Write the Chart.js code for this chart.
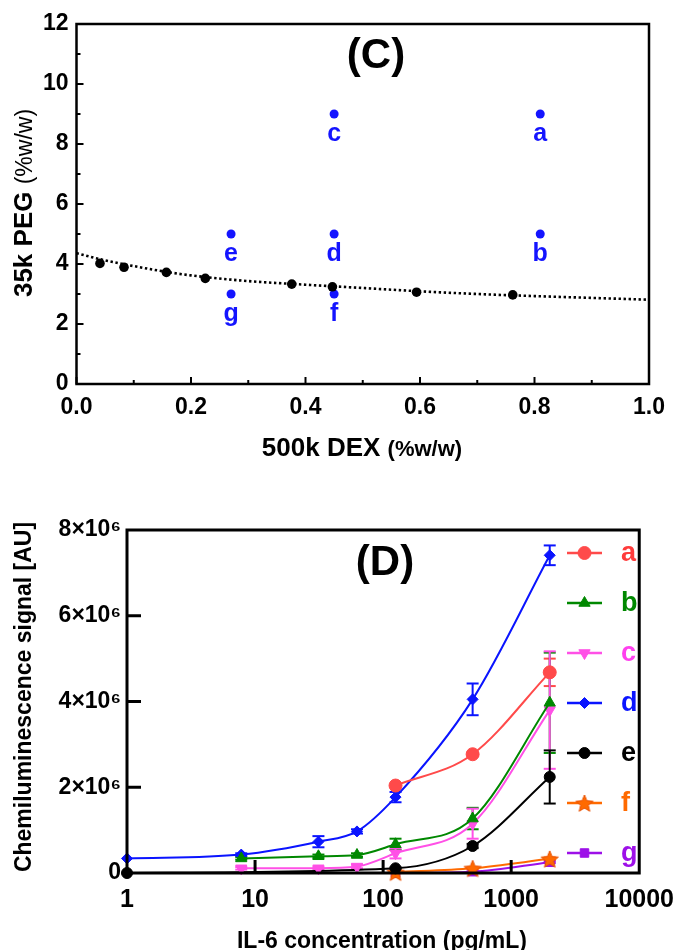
<!DOCTYPE html>
<html><head><meta charset="utf-8">
<script src="https://cdn.jsdelivr.net/npm/chart.js@4.4.1/dist/chart.umd.min.js"></script>
<style>
html,body{margin:0;padding:0;background:#fff;}
#wrap{position:relative;width:686px;height:950px;background:#fff;}
canvas{position:absolute;left:0;}
</style></head><body>
<div id="wrap">
<canvas id="chartC" width="686" height="475" style="top:0px"></canvas>
<canvas id="chartD" width="686" height="475" style="top:475px"></canvas>
</div>
<script>
// ================= Panel (C) data =================
const binodalDex = [0.041, 0.083, 0.157, 0.225, 0.376, 0.447, 0.594, 0.762];
const binodalPeg = [4.02, 3.89, 3.72, 3.52, 3.33, 3.24, 3.06, 2.97];
const fitDex = [0, 0.05, 0.1, 0.15, 0.2, 0.3, 0.4, 0.5, 0.6, 0.7, 0.8, 0.9, 1.0];
const fitPeg = [4.36, 4.12, 3.93, 3.76, 3.62, 3.43, 3.31, 3.2, 3.09, 3.0, 2.93, 2.87, 2.81];
const compLabels = ['a', 'b', 'c', 'd', 'e', 'f', 'g'];
const compDex = [0.81, 0.81, 0.45, 0.45, 0.27, 0.45, 0.27];
const compPeg = [9, 5, 9, 5, 5, 3, 3];
const cXTicks = [0, 0.2, 0.4, 0.6, 0.8, 1.0];
const cXTickLabels = ['0.0', '0.2', '0.4', '0.6', '0.8', '1.0'];
const cXMinorTicks = [0.1, 0.3, 0.5, 0.7, 0.9];
const cYTicks = [0, 2, 4, 6, 8, 10, 12];
const cYTickLabels = ['0', '2', '4', '6', '8', '10', '12'];
const cYMinorTicks = [1, 3, 5, 7, 9, 11];

// ================= Panel (D) data =================
const il6Conc = [1, 7.8, 31.25, 62.5, 125, 500, 2000];
const seriesNames = ['a', 'b', 'c', 'd', 'e', 'f', 'g'];
const signalA = [null, null, null, null, 2.04e6, 2.77e6, 4.68e6];
const errA    = [0, 0, 0, 0, 0, 0.04e6, 0.32e6];
const signalB = [null, 0.34e6, 0.39e6, 0.42e6, 0.67e6, 1.27e6, 3.97e6];
const errB    = [0, 0.03e6, 0.04e6, 0.04e6, 0.13e6, 0.25e6, 1.17e6];
const signalC = [null, 0.11e6, 0.11e6, 0.15e6, 0.46e6, 1.15e6, 3.80e6];
const errC    = [0, 0.03e6, 0.03e6, 0.04e6, 0.12e6, 0.35e6, 1.37e6];
const signalD = [0.34e6, 0.43e6, 0.73e6, 0.97e6, 1.77e6, 4.05e6, 7.41e6];
const errD    = [0, 0.03e6, 0.13e6, 0.05e6, 0.12e6, 0.37e6, 0.23e6];
const signalE = [0, null, null, null, 0.11e6, 0.63e6, 2.24e6];
const errE    = [0, 0, 0, 0, 0.02e6, 0.05e6, 0.62e6];
const signalF = [null, null, null, null, 0.02e6, 0.11e6, 0.33e6];
const errF    = [0, 0, 0, 0, 0, 0.02e6, 0.03e6];
const signalG = [null, null, null, null, 0.0, 0.03e6, 0.25e6];
const errG    = [0, 0, 0, 0, 0, 0.01e6, 0.02e6];
const dXTicks = [1, 10, 100, 1000, 10000];
const dXTickLabels = ['1', '10', '100', '1000', '10000'];
const dXInnerTicks = [10, 100, 1000];
const dYTicks = [0, 2e6, 4e6, 6e6, 8e6];
const dYTickLabels = ['0', '2×10⁶', '4×10⁶', '6×10⁶', '8×10⁶'];
const dYInnerTicks = [2e6, 4e6, 6e6];

// ================= styles =================
const FONT = "'Liberation Sans', Arial, Helvetica, sans-serif";
Chart.defaults.font.family = FONT;
Chart.defaults.color = '#000';
const BLUE_C = '#1414ff';

function makeStar(color, r) {
  const s = Math.ceil(r * 2 + 4);
  const c = document.createElement('canvas');
  c.width = s; c.height = s;
  const g = c.getContext('2d');
  g.translate(s / 2, s / 2 + 1);
  g.beginPath();
  for (let i = 0; i < 10; i++) {
    const rr = i % 2 === 0 ? r : r * 0.45;
    const ang = -Math.PI / 2 + i * Math.PI / 5;
    g.lineTo(rr * Math.cos(ang), rr * Math.sin(ang));
  }
  g.closePath();
  g.fillStyle = color; g.fill();
  g.strokeStyle = '#e85000'; g.lineWidth = 1; g.stroke();
  return c;
}
const starImg = makeStar('#ff6a00', 9);

const seriesStyle = [
  { color: '#ff4a4a', text: '#ff3b3b', style: 'circle', radius: 6.5, rot: 0 },
  { color: '#008800', text: '#008800', style: 'triangle', radius: 6.5, rot: 0 },
  { color: '#ff50e6', text: '#ff40ee', style: 'triangle', radius: 6.5, rot: 180 },
  { color: '#0a14ff', text: '#0a14ff', style: 'rectRot', radius: 5.5, rot: 0 },
  { color: '#000000', text: '#000000', style: 'circle', radius: 5.5, rot: 0 },
  { color: '#ff6a00', text: '#ff6a00', style: starImg, radius: 9, rot: 0 },
  { color: '#9d10e8', text: '#9d10e8', style: 'rect', radius: 6, rot: 0 }
];
const seriesValues = [signalA, signalB, signalC, signalD, signalE, signalF, signalG];
const seriesErrors = [errA, errB, errC, errD, errE, errF, errG];

function line(ctx, x1, y1, x2, y2) { ctx.beginPath(); ctx.moveTo(x1, y1); ctx.lineTo(x2, y2); ctx.stroke(); }

function drawParts(ctx, parts, cx, cy, rotate) {
  ctx.save();
  ctx.translate(cx, cy);
  if (rotate) ctx.rotate(-Math.PI / 2);
  let total = 0;
  parts.forEach(p => { ctx.font = p.font; p.w = ctx.measureText(p.text).width; total += p.w; });
  let x = -total / 2;
  ctx.textAlign = 'left'; ctx.textBaseline = 'alphabetic'; ctx.fillStyle = '#000';
  parts.forEach(p => { ctx.font = p.font; ctx.fillText(p.text, x, p.base); x += p.w; });
  ctx.restore();
}

// ================= Chart (C) =================
const panelC = {
  id: 'panelC',
  afterDatasetsDraw(chart) {
    const ctx = chart.ctx;
    const meta = chart.getDatasetMeta(1);
    ctx.save();
    ctx.fillStyle = BLUE_C; ctx.font = 'bold 25px ' + FONT;
    ctx.textAlign = 'center'; ctx.textBaseline = 'alphabetic';
    meta.data.forEach((pt, i) => ctx.fillText(compLabels[i], pt.x, pt.y + 27));
    ctx.restore();
  },
  afterDraw(chart) {
    const { ctx, chartArea: a, scales: { x, y } } = chart;
    ctx.save();
    ctx.strokeStyle = '#000'; ctx.lineWidth = 2.5;
    ctx.strokeRect(a.left, a.top, a.right - a.left, a.bottom - a.top);
    ctx.lineWidth = 2;
    cYTicks.forEach(v => { const p = y.getPixelForValue(v); line(ctx, a.left, p, a.left + 7, p); });
    cYMinorTicks.forEach(v => { const p = y.getPixelForValue(v); line(ctx, a.left, p, a.left + 4, p); });
    cXTicks.forEach(v => { const p = x.getPixelForValue(v); line(ctx, p, a.bottom, p, a.bottom - 7); });
    cXMinorTicks.forEach(v => { const p = x.getPixelForValue(v); line(ctx, p, a.bottom, p, a.bottom - 4); });
    ctx.restore();
    drawParts(ctx, [{ text: '(C)', font: 'bold 42px ' + FONT, base: 0 }], 376, 68, false);
    drawParts(ctx, [{ text: '500k DEX ', font: 'bold 26px ' + FONT, base: 0 },
                    { text: '(%w/w)', font: 'bold 22px ' + FONT, base: 0 }], 362, 456, false);
    drawParts(ctx, [{ text: '35k PEG ', font: 'bold 26px ' + FONT, base: 9 },
                    { text: '(%w/w)', font: '23px ' + FONT, base: 9 }], 23, 203, true);
  }
};

new Chart(document.getElementById('chartC'), {
  type: 'scatter',
  data: {
    datasets: [
      { label: 'binodal', data: binodalDex.map((v, i) => ({ x: v, y: binodalPeg[i] })),
        backgroundColor: '#000', borderColor: '#000', pointRadius: 4.8, pointBorderWidth: 0 },
      { label: 'compositions', data: compDex.map((v, i) => ({ x: v, y: compPeg[i] })),
        backgroundColor: BLUE_C, borderColor: BLUE_C, pointRadius: 4.5, pointBorderWidth: 0 },
      { label: 'fit', data: fitDex.map((v, i) => ({ x: v, y: fitPeg[i] })), showLine: true,
        borderColor: '#000', borderWidth: 2.6, borderDash: [2.4, 2.6], pointRadius: 0,
        cubicInterpolationMode: 'monotone', fill: false }
    ]
  },
  options: {
    responsive: false, animation: false, events: [],
    layout: { padding: { top: 24, right: 37, left: 0, bottom: 0 } },
    plugins: { legend: { display: false }, tooltip: { enabled: false } },
    scales: {
      x: {
        type: 'linear', min: 0, max: 1,
        afterBuildTicks: s => { s.ticks = cXTicks.map(v => ({ value: v })); },
        afterFit: s => { s.height = 91; },
        grid: { display: false, drawTicks: false }, border: { display: false },
        ticks: { autoSkip: false, maxRotation: 0, padding: 10, color: '#000',
                 font: { size: 23, weight: 'bold' }, callback: (v, i) => cXTickLabels[i] }
      },
      y: {
        type: 'linear', min: 0, max: 12,
        afterBuildTicks: s => { s.ticks = cYTicks.map(v => ({ value: v })); },
        afterFit: s => { s.width = 76.5; },
        grid: { display: false, drawTicks: false }, border: { display: false },
        ticks: { autoSkip: false, padding: 8, color: '#000',
                 font: { size: 23, weight: 'bold' }, callback: (v, i) => cYTickLabels[i] }
      }
    }
  },
  plugins: [panelC]
});

// ================= Chart (D) =================
const panelD = {
  id: 'panelD',
  beforeDatasetsDraw(chart) {
    const { ctx, scales: { x, y } } = chart;
    ctx.save();
    ctx.lineWidth = 2;
    seriesValues.forEach((vals, s) => {
      ctx.strokeStyle = seriesStyle[s].color;
      vals.forEach((v, i) => {
        const e = seriesErrors[s][i];
        if (v === null || !e) return;
        const px = x.getPixelForValue(il6Conc[i]);
        const y1 = y.getPixelForValue(v - e), y2 = y.getPixelForValue(v + e);
        line(ctx, px, y1, px, y2);
        line(ctx, px - 6, y1, px + 6, y1);
        line(ctx, px - 6, y2, px + 6, y2);
      });
    });
    ctx.restore();
  },
  afterDraw(chart) {
    const { ctx, chartArea: a, scales: { x, y } } = chart;
    ctx.save();
    ctx.strokeStyle = '#000'; ctx.lineWidth = 3;
    ctx.strokeRect(a.left, a.top, a.right - a.left, a.bottom - a.top);
    dYInnerTicks.forEach(v => { const p = y.getPixelForValue(v); line(ctx, a.left, p, a.left + 14, p); });
    dXInnerTicks.forEach(v => { const p = x.getPixelForValue(v); line(ctx, p, a.bottom, p, a.bottom - 13); });
    // legend inside plot
    seriesNames.forEach((name, i) => {
      const st = seriesStyle[i];
      const ly = 78 + i * 50;
      ctx.strokeStyle = st.color; ctx.lineWidth = 2.5;
      line(ctx, 567, ly, 602, ly);
      ctx.fillStyle = st.color; ctx.strokeStyle = st.color; ctx.lineWidth = 1;
      Chart.helpers.drawPoint(ctx, { pointStyle: st.style, radius: st.radius, rotation: st.rot, borderWidth: 1 }, 584.5, ly);
      ctx.fillStyle = st.text; ctx.font = 'bold 27px ' + FONT;
      ctx.textAlign = 'left'; ctx.textBaseline = 'middle';
      ctx.fillText(name, 621, ly + 1);
    });
    ctx.restore();
    drawParts(ctx, [{ text: '(D)', font: 'bold 42px ' + FONT, base: 0 }], 385, 100, false);
    drawParts(ctx, [{ text: 'IL-6 concentration (pg/mL)', font: 'bold 23px ' + FONT, base: 0 }], 382, 473, false);
    drawParts(ctx, [{ text: 'Chemiluminescence signal [AU]', font: 'bold 23px ' + FONT, base: 8 }], 23, 222, true);
  }
};

new Chart(document.getElementById('chartD'), {
  type: 'scatter',
  data: {
    datasets: seriesNames.map((name, s) => ({
      label: name,
      data: il6Conc.map((c, i) => ({ x: c, y: seriesValues[s][i] })).filter(p => p.y !== null),
      showLine: true,
      borderColor: seriesStyle[s].color, backgroundColor: seriesStyle[s].color,
      borderWidth: 2, pointStyle: seriesStyle[s].style, pointRadius: seriesStyle[s].radius,
      pointRotation: seriesStyle[s].rot, pointBorderWidth: 1, pointBorderColor: seriesStyle[s].color,
      cubicInterpolationMode: 'monotone', clip: false
    }))
  },
  options: {
    responsive: false, animation: false, events: [],
    layout: { padding: { top: 55, right: 43, left: 0, bottom: 0 } },
    plugins: { legend: { display: false }, tooltip: { enabled: false } },
    scales: {
      x: {
        type: 'logarithmic', min: 1, max: 10000,
        afterBuildTicks: s => { s.ticks = dXTicks.map(v => ({ value: v })); },
        afterFit: s => { s.height = 77; },
        grid: { display: false, drawTicks: false }, border: { display: false },
        ticks: { autoSkip: false, maxRotation: 0, padding: 12, color: '#000',
                 font: { size: 25, weight: 'bold' }, callback: (v, i) => dXTickLabels[i] }
      },
      y: {
        type: 'linear', min: 0, max: 8e6,
        afterBuildTicks: s => { s.ticks = dYTicks.map(v => ({ value: v })); },
        afterFit: s => { s.width = 127; },
        grid: { display: false, drawTicks: false }, border: { display: false },
        ticks: { autoSkip: false, padding: 6, color: '#000',
                 font: { size: 23, weight: 'bold' }, callback: (v, i) => dYTickLabels[i] }
      }
    }
  },
  plugins: [panelD]
});
</script>
</body></html>
